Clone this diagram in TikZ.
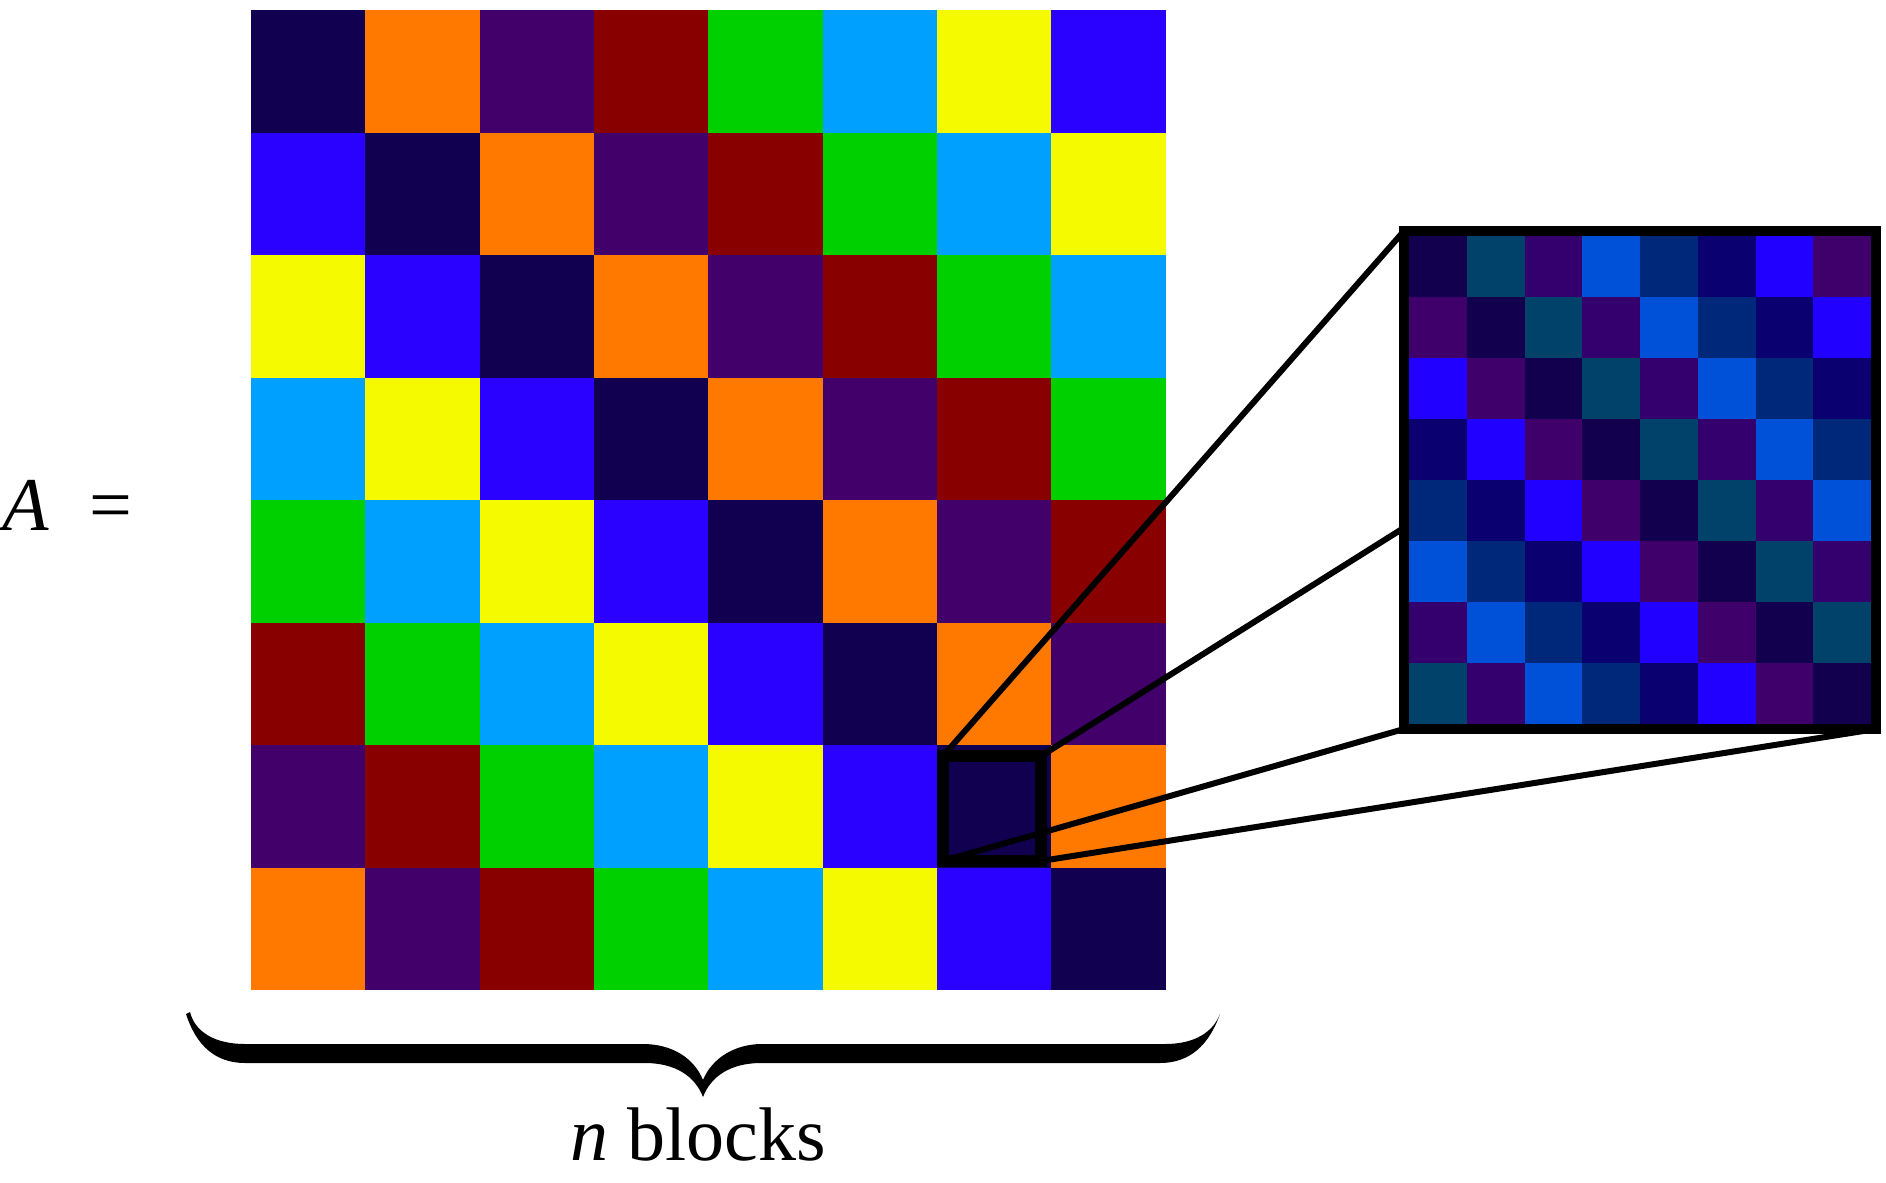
\documentclass[tikz,border=0pt]{standalone}
\usepackage{fontspec}
\setmainfont{Liberation Serif}
\pgfdeclarelayer{back}
\pgfdeclarelayer{mid}
\pgfsetlayers{back,mid,main}
% main matrix colours
\definecolor{m0}{HTML}{10004F}
\definecolor{m1}{HTML}{FF7800}
\definecolor{m2}{HTML}{42006B}
\definecolor{m3}{HTML}{880000}
\definecolor{m4}{HTML}{00D000}
\definecolor{m5}{HTML}{00A0FF}
\definecolor{m6}{HTML}{F6FA00}
\definecolor{m7}{HTML}{2A00FF}
% zoomed block colours
\definecolor{z0}{HTML}{12004F}
\definecolor{z1}{HTML}{00426A}
\definecolor{z2}{HTML}{33006E}
\definecolor{z3}{HTML}{0050D8}
\definecolor{z4}{HTML}{00287A}
\definecolor{z5}{HTML}{0B006F}
\definecolor{z6}{HTML}{2200FF}
\definecolor{z7}{HTML}{40006B}
\begin{document}
\begin{tikzpicture}[x=0.5pt,y=-0.5pt,
  link/.style={line width=3pt},
  bigfont/.style={font=\fontsize{38}{42}\selectfont, inner sep=0pt}]
\useasboundingbox (0,0) rectangle (1886,1183);
% main block-circulant matrix
\begin{pgfonlayer}{back}
\foreach \i in {0,...,7}{
  \foreach \j in {0,...,7}{
    \pgfmathtruncatemacro{\k}{mod(\j-\i+8,8)}
    \fill[m\k] ({251+\j*114.3},{10+\i*122.5}) rectangle ++(114.6,122.9);
  }
}
\node[draw, line width=6pt, minimum width=49pt, minimum height=52.5pt,
      inner sep=0pt, outer sep=0pt] (small) at (992,808.5) {};
\end{pgfonlayer}
% magnified block
\node[draw, fill=white, line width=5pt, minimum width=236pt,
      minimum height=249pt, inner sep=0pt, outer sep=0pt] (big) at (1640,480) {};
\foreach \i in {0,...,7}{
  \foreach \j in {0,...,7}{
    \pgfmathtruncatemacro{\k}{mod(\j-\i+8,8)}
    \fill[z\k] ({1409+\j*57.75},{236+\i*61}) rectangle ++(58,61.25);
  }
}
% projection lines
\begin{pgfonlayer}{mid}
\draw[link] (small.north west) -- (big.north west);
\draw[link] (small.north east) -- (big.north east);
\draw[link] (small.south west) -- (big.south west);
\draw[link] (small.south east) -- (big.south east);
\end{pgfonlayer}
% brace
\fill (186,1014) .. controls (196,1045) and (215,1063) .. (245,1063)
  -- (645,1063) .. controls (675,1063) and (695,1076) .. (703,1097)
  .. controls (711,1076) and (731,1063) .. (761,1063)
  -- (1160,1063) .. controls (1190,1063) and (1209,1045) .. (1220,1014)
  .. controls (1213,1032) and (1195,1044) .. (1165,1044)
  -- (762,1044) .. controls (735,1044) and (712,1058) .. (703,1080)
  .. controls (694,1058) and (672,1044) .. (643,1044)
  -- (245,1044) .. controls (215,1044) and (195,1032) .. (190,1012) -- cycle;
% labels
\node[bigfont, anchor=base] (lbl) at (698,1160) {\textit{n} blocks};
\node[bigfont, anchor=base west] (eq) at (2,530) {\textit{A}\hspace{20pt}=};
\end{tikzpicture}
\end{document}
